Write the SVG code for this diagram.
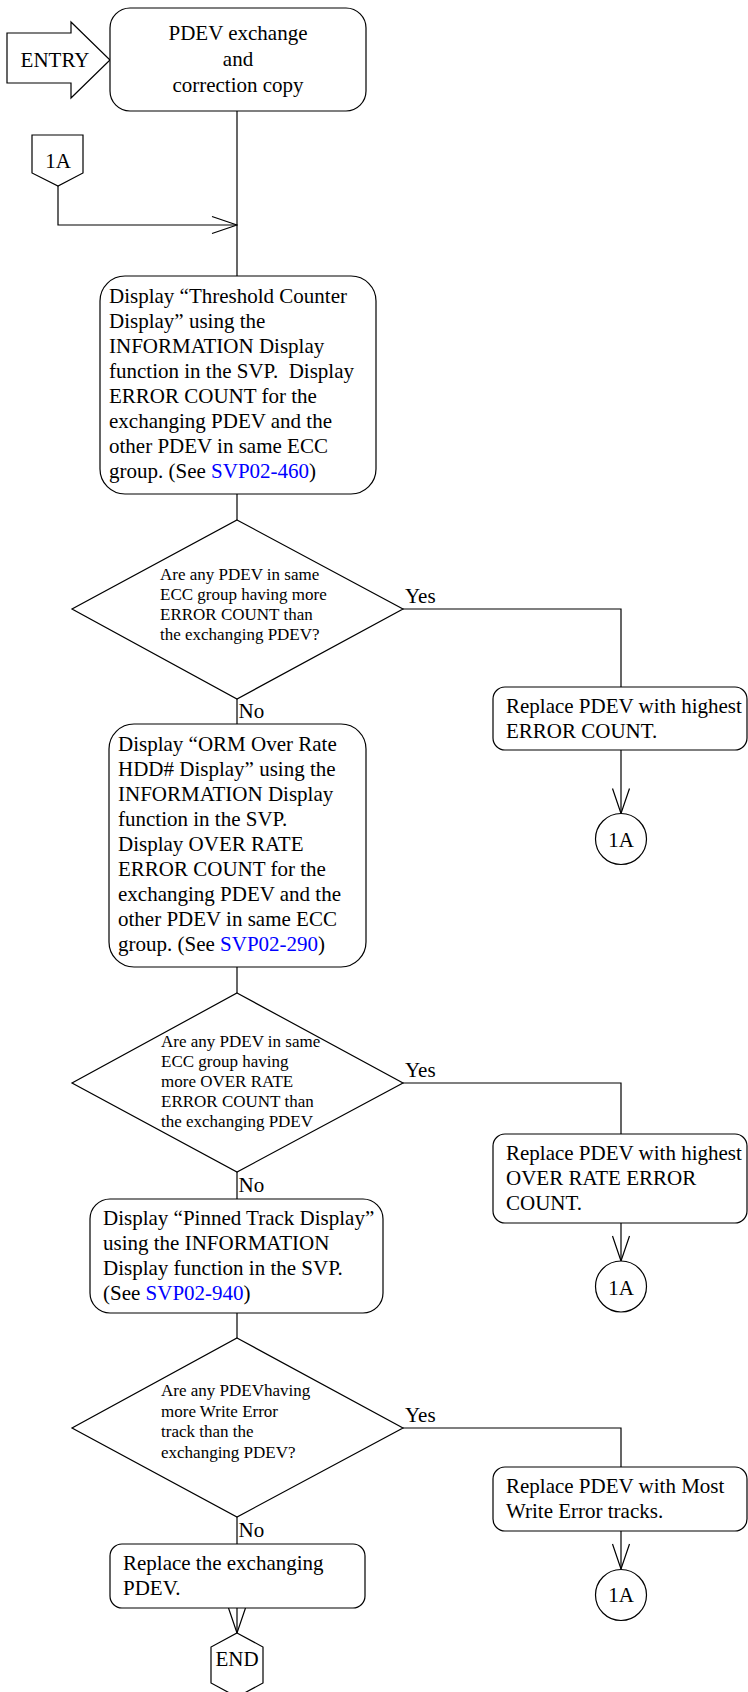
<svg xmlns="http://www.w3.org/2000/svg" width="748" height="1692" viewBox="0 0 748 1692">
<style>
  .shape { fill: #fff; stroke: #000; stroke-width: 1.2; }
  .conn { fill: none; stroke: #000; stroke-width: 1.2; }
  text { font-family: "Liberation Serif", "Times New Roman", serif; fill: #000; white-space: pre; }
  .t { font-size: 21px; }
  .d { font-size: 17px; }
  .c { text-anchor: middle; }
  .link { fill: #0000ff; }
</style>
<defs>
  <marker id="open" viewBox="-1 -10 27 20" refX="25" refY="0" markerWidth="27" markerHeight="20" markerUnits="userSpaceOnUse" orient="auto">
    <path d="M0,-8.5 L25,0 L0,8.5" fill="none" stroke="#000" stroke-width="1.2"/>
  </marker>
</defs>
<rect width="748" height="1692" fill="#fff"/>

<g id="connectors">
  <path class="conn" d="M237,111 V276"/>
  <path class="conn" d="M58,186 V225 H237" marker-end="url(#open)"/>
  <path class="conn" d="M237,494 V520"/>
  <path class="conn" d="M237,699 V724"/>
  <path class="conn" d="M403,609 H621 V687"/>
  <path class="conn" d="M621,750 V813.5" marker-end="url(#open)"/>
  <path class="conn" d="M237,967 V993"/>
  <path class="conn" d="M237,1172 V1199"/>
  <path class="conn" d="M403,1083 H621 V1134"/>
  <path class="conn" d="M621,1223 V1261" marker-end="url(#open)"/>
  <path class="conn" d="M237,1313 V1338"/>
  <path class="conn" d="M237,1517 V1544"/>
  <path class="conn" d="M403,1428 H621 V1467"/>
  <path class="conn" d="M621,1531 V1569" marker-end="url(#open)"/>
  <path class="conn" d="M237,1608 V1633" marker-end="url(#open)"/>
  <text class="t" x="405" y="603">Yes</text>
  <text class="t" x="238.5" y="718">No</text>
  <text class="t" x="405" y="1077">Yes</text>
  <text class="t" x="238.5" y="1192">No</text>
  <text class="t" x="405" y="1422">Yes</text>
  <text class="t" x="238.5" y="1537">No</text>
</g>

<g id="entry">
  <polygon class="shape" points="7,33 71,33 71,22 110,60 71,98 71,83 7,83"/>
  <text class="t c" x="55" y="67">ENTRY</text>
</g>

<g id="start">
  <rect class="shape" x="110" y="8" width="256" height="103" rx="20"/>
  <text class="t c" x="238" y="40">PDEV exchange</text>
  <text class="t c" x="238" y="66">and</text>
  <text class="t c" x="238" y="92">correction copy</text>
</g>

<g id="offpage-1A">
  <polygon class="shape" points="32,135 83,135 83,173 58,186 32,173"/>
  <text class="t c" x="58" y="168">1A</text>
</g>

<g id="threshold-display">
  <rect class="shape" x="100" y="276" width="276" height="218" rx="25"/>
  <text class="t" x="109" y="303">Display “Threshold Counter</text>
  <text class="t" x="109" y="328">Display” using the</text>
  <text class="t" x="109" y="353">INFORMATION Display</text>
  <text class="t" x="109" y="378">function in the SVP.  Display</text>
  <text class="t" x="109" y="403">ERROR COUNT for the</text>
  <text class="t" x="109" y="428">exchanging PDEV and the</text>
  <text class="t" x="109" y="453">other PDEV in same ECC</text>
  <text class="t" x="109" y="478">group. (See <tspan class="link">SVP02-460</tspan>)</text>
</g>

<g id="decision-error-count">
  <polygon class="shape" points="237,520 403,609 237,699 72,609"/>
  <text class="d" x="160" y="580">Are any PDEV in same</text>
  <text class="d" x="160" y="600">ECC group having more</text>
  <text class="d" x="160" y="620">ERROR COUNT than</text>
  <text class="d" x="160" y="640">the exchanging PDEV?</text>
</g>

<g id="replace-highest-error">
  <rect class="shape" x="493" y="687" width="254" height="63" rx="12"/>
  <text class="t" x="506" y="713">Replace PDEV with highest</text>
  <text class="t" x="506" y="738">ERROR COUNT.</text>
</g>

<g id="connector-1A-a">
  <circle class="shape" cx="621" cy="839" r="25.5"/>
  <text class="t c" x="621" y="847">1A</text>
</g>

<g id="orm-display">
  <rect class="shape" x="109" y="724" width="257" height="243" rx="25"/>
  <text class="t" x="118" y="751">Display “ORM Over Rate</text>
  <text class="t" x="118" y="776">HDD# Display” using the</text>
  <text class="t" x="118" y="801">INFORMATION Display</text>
  <text class="t" x="118" y="826">function in the SVP.</text>
  <text class="t" x="118" y="851">Display OVER RATE</text>
  <text class="t" x="118" y="876">ERROR COUNT for the</text>
  <text class="t" x="118" y="901">exchanging PDEV and the</text>
  <text class="t" x="118" y="926">other PDEV in same ECC</text>
  <text class="t" x="118" y="951">group. (See <tspan class="link">SVP02-290</tspan>)</text>
</g>

<g id="decision-over-rate">
  <polygon class="shape" points="237,993 403,1083 237,1172 72,1083"/>
  <text class="d" x="161" y="1047">Are any PDEV in same</text>
  <text class="d" x="161" y="1067">ECC group having</text>
  <text class="d" x="161" y="1087">more OVER RATE</text>
  <text class="d" x="161" y="1107">ERROR COUNT than</text>
  <text class="d" x="161" y="1127">the exchanging PDEV</text>
</g>

<g id="replace-highest-over-rate">
  <rect class="shape" x="493" y="1134" width="254" height="89" rx="12"/>
  <text class="t" x="506" y="1160">Replace PDEV with highest</text>
  <text class="t" x="506" y="1185">OVER RATE ERROR</text>
  <text class="t" x="506" y="1210">COUNT.</text>
</g>

<g id="connector-1A-b">
  <circle class="shape" cx="621" cy="1286.5" r="25.5"/>
  <text class="t c" x="621" y="1295">1A</text>
</g>

<g id="pinned-track-display">
  <rect class="shape" x="90" y="1199" width="293" height="114" rx="20"/>
  <text class="t" x="103" y="1225">Display “Pinned Track Display”</text>
  <text class="t" x="103" y="1250">using the INFORMATION</text>
  <text class="t" x="103" y="1275">Display function in the SVP.</text>
  <text class="t" x="103" y="1300">(See <tspan class="link">SVP02-940</tspan>)</text>
</g>

<g id="decision-write-error">
  <polygon class="shape" points="237,1338 403,1428 237,1517 72,1428"/>
  <text class="d" x="161" y="1396">Are any PDEVhaving</text>
  <text class="d" x="161" y="1417">more Write Error</text>
  <text class="d" x="161" y="1437">track than the</text>
  <text class="d" x="161" y="1458">exchanging PDEV?</text>
</g>

<g id="replace-most-write-error">
  <rect class="shape" x="493" y="1467" width="254" height="64" rx="12"/>
  <text class="t" x="506" y="1493">Replace PDEV with Most</text>
  <text class="t" x="506" y="1518">Write Error tracks.</text>
</g>

<g id="connector-1A-c">
  <circle class="shape" cx="621" cy="1595" r="25.5"/>
  <text class="t c" x="621" y="1602">1A</text>
</g>

<g id="replace-exchanging">
  <rect class="shape" x="110" y="1544" width="255" height="64" rx="12"/>
  <text class="t" x="123" y="1570">Replace the exchanging</text>
  <text class="t" x="123" y="1595">PDEV.</text>
</g>

<g id="end">
  <polygon class="shape" points="237,1633 263,1647 263,1683 237,1697 211,1683 211,1647"/>
  <text class="t c" x="237" y="1666">END</text>
</g>
</svg>
